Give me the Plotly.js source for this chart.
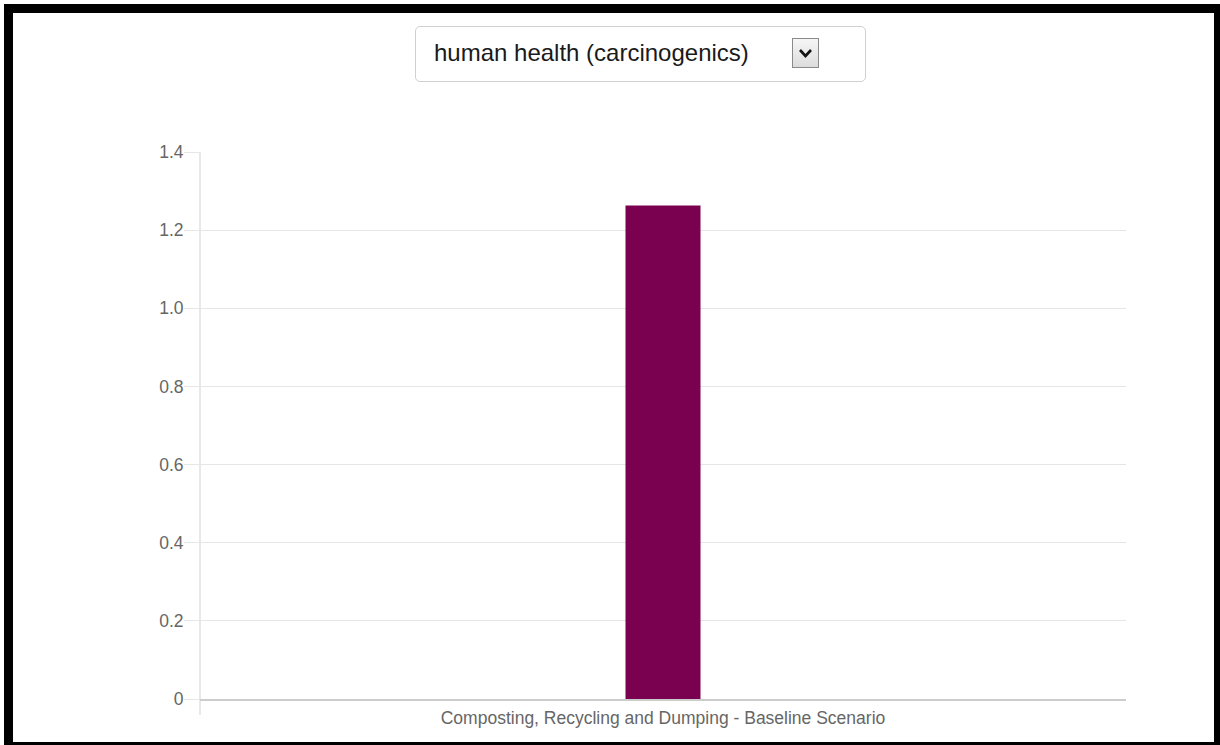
<!DOCTYPE html>
<html>
<head>
<meta charset="utf-8">
<script src="https://cdn.plot.ly/plotly-3.0.1.min.js"></script>
<style>
  html, body { margin: 0; padding: 0; width: 1220px; height: 745px; overflow: hidden; background: #fff; }
  #frame { position: absolute; left: 4px; top: 4px; width: 1201px; height: 729px; border: 9px solid #000; background: #fff; }
  #chart { position: absolute; left: 0; top: 0; width: 1220px; height: 745px; }
  #dropdown { position: absolute; left: 415px; top: 26px; width: 449px; height: 54px; border: 1px solid #d0d0d0; border-radius: 5px; background: #fff;
              font-family: "Liberation Sans", Arial, sans-serif; font-size: 24px; color: #1a1a1a; z-index: 5; }
  #dropdown .label { position: absolute; left: 18px; top: 12px; white-space: nowrap; }
  #dropdown .btn { position: absolute; left: 376px; top: 11px; width: 27px; height: 30px; border: 1px solid #8a8a8a;
                   background: linear-gradient(#f6f6f6, #dcdcdc); box-sizing: border-box; }
  #dropdown .btn svg { position: absolute; left: 5px; top: 9px; }
</style>
</head>
<body>
<div id="frame"></div>
<div id="dropdown">
  <span class="label">human health (carcinogenics)</span>
  <div class="btn"><svg width="15" height="11" viewBox="0 0 15 11"><polyline points="2,2 7.5,8 13,2" fill="none" stroke="#111" stroke-width="2.6"/></svg></div>
</div>
<div id="chart"></div>
<script>
// Data
const categories = ["Composting, Recycling and Dumping - Baseline Scenario"];
const impactValues = [1.263];
const yTickValues = [0, 0.2, 0.4, 0.6, 0.8, 1.0, 1.2, 1.4];
const yTickLabels = ["0", "0.2", "0.4", "0.6", "0.8", "1.0", "1.2", "1.4"];

const trace = {
  type: "bar",
  x: categories,
  y: impactValues,
  width: 0.081,
  marker: { color: "#7a0050" },
  hoverinfo: "x+y"
};

const plotH = 745 - 152 - 46;

const layout = {
  width: 1220,
  height: 745,
  margin: { l: 200, r: 94, t: 152, b: 46, pad: 0 },
  paper_bgcolor: "rgba(0,0,0,0)",
  plot_bgcolor: "rgba(0,0,0,0)",
  showlegend: false,
  font: { family: "Liberation Sans, Arial, sans-serif", color: "#666666" },
  xaxis: {
    type: "category",
    showgrid: false,
    zeroline: false,
    showline: true,
    linecolor: "#cccccc",
    linewidth: 2,
    ticks: "",
    tickfont: { size: 17.5, color: "#666666" },
    ticklabelstandoff: 2,
    fixedrange: true
  },
  yaxis: {
    range: [0, 1.4],
    tickvals: yTickValues,
    ticktext: yTickLabels,
    showgrid: true,
    gridcolor: "#e6e6e6",
    gridwidth: 1,
    zeroline: false,
    showline: false,
    ticks: "outside",
    ticklen: 15,
    tickcolor: "#e6e6e6",
    tickwidth: 1,
    tickfont: { size: 17.5, color: "#666666" },
    ticklabelstandoff: -3,
    fixedrange: true
  },
  shapes: [
    {
      type: "line", xref: "paper", yref: "paper",
      x0: 0, x1: 0, y0: -16 / plotH, y1: 1,
      line: { color: "#e0e0e0", width: 1.5 },
      layer: "below"
    }
  ]
};

Plotly.newPlot("chart", [trace], layout, { displayModeBar: false, staticPlot: true });
</script>
</body>
</html>
